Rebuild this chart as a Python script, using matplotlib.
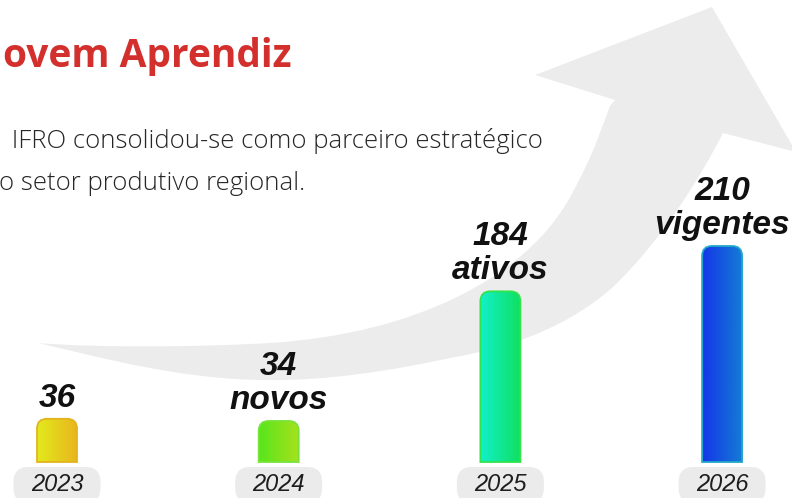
import numpy as np
import matplotlib
matplotlib.use("Agg")
import matplotlib.pyplot as plt
from matplotlib.path import Path
from matplotlib.patches import PathPatch, FancyBboxPatch
from matplotlib.colors import to_rgb

# ── data ────────────────────────────────────────────
years = ["2023", "2024", "2025", "2026"]
value_num = ["36", "34", "184", "210"]
value_word = ["", "novos", "ativos", "vigentes"]
bar_level = [20, 19, 79, 100]          # bar height as drawn (% of tallest)

title = "ovem Aprendiz"
subtitle = [" IFRO consolidou-se como parceiro estratégico",
            "o setor produtivo regional."]

# ── style ───────────────────────────────────────────
W, H = 792, 498
bar_left = ["#e2ea1c", "#58e51c", "#12f0cc", "#1436e8"]
bar_right = ["#e8b61e", "#a6e21c", "#10e062", "#147ad6"]
bar_edge = ["#e2b41c", "#78e43a", "#30e44a", "#22a8cc"]
ARROW = "#ececec"
RED = "#d22f2d"

fig = plt.figure(figsize=(W / 100, H / 100), dpi=100)
fig.patch.set_facecolor("white")

# background axes in pixel units (y down)
bg = fig.add_axes([0, 0, 1, 1])
bg.set_axis_off()

# big curved arrow
M, L, C = Path.MOVETO, Path.LINETO, Path.CURVE4
arrow = [
    ((38, 343), M),
    ((100, 348), C), ((200, 347), C), ((270, 343), C),
    ((345, 338), C), ((405, 322), C), ((455, 298), C),
    ((505, 274), C), ((552, 238), C), ((578, 182), C),
    ((596, 148), C), ((603, 124), C), ((610, 106), C),
    ((615, 100), L), ((535, 75), L), ((712, 7), L),
    ((796, 152), L), ((723, 133), L),
    ((700, 178), C), ((662, 240), C), ((613, 287), C),
    ((570, 325), C), ((515, 347), C), ((450, 358), C),
    ((390, 371), C), ((325, 381), C), ((267, 380), C),
    ((180, 380), C), ((95, 356), C), ((38, 343), C),
]
verts, codes = zip(*arrow)
bg.add_patch(PathPatch(Path(verts, codes), fc=ARROW, ec="none", zorder=1))

# bar axes: category x, height in % ; bottom at y=462 px, 100 % at y=246 px
ax = fig.add_axes([0, (H - 462) / H, 1, (462 - 246) / H])
ax.set_axis_off()
step = 221.7
ax.set_xlim(-57 / step, (W - 57) / step)
ax.set_ylim(0, 100)
xs = np.arange(len(years))
bars = ax.bar(xs, bar_level, width=40 / step, color="none", edgecolor="none")


def to_px(x, y):
    return bg.transData.inverted().transform(ax.transData.transform((x, y)))


bg.set_xlim(0, W)
bg.set_ylim(H, 0)

r = 10
grad = np.linspace(0, 1, 64)[None, :, None]
for i, rect in enumerate(bars):
    x0, yb = to_px(rect.get_x(), 0)
    x1, yt = to_px(rect.get_x() + rect.get_width(), rect.get_height())
    v = [(x0, yb), (x0, yt + r), (x0, yt), (x0 + r, yt), (x1 - r, yt),
         (x1, yt), (x1, yt + r), (x1, yb), (x0, yb)]
    c = [Path.MOVETO, Path.LINETO, Path.CURVE3, Path.CURVE3, Path.LINETO,
         Path.CURVE3, Path.CURVE3, Path.LINETO, Path.CLOSEPOLY]
    patch = PathPatch(Path(v, c), fc="none", ec=bar_edge[i], lw=1.3, zorder=4)
    bg.add_patch(patch)
    img = np.array(to_rgb(bar_left[i])) * (1 - grad) + np.array(to_rgb(bar_right[i])) * grad
    im = bg.imshow(img, extent=(x0, x1, yb, yt), aspect="auto", zorder=3,
                   interpolation="bilinear")
    im.set_clip_path(patch)

    # year pill
    xc = (x0 + x1) / 2
    bg.add_patch(FancyBboxPatch((xc - 43.5, 467), 87, 36,
                                boxstyle="round,pad=0,rounding_size=15",
                                fc="#ebebeb", ec="none", zorder=2))
    bg.text(xc, 484, years[i], ha="center", va="center", fontsize=17,
            style="italic", color="#1e1e1e", family="Liberation Sans", zorder=5)

    # value labels above bar
    lab = dict(ha="center", va="baseline", fontsize=24, fontweight="bold",
               style="italic", color="#111111", family="Liberation Sans",
               textcoords="offset points", zorder=5)
    if value_word[i]:
        ax.annotate(value_word[i], (xs[i], bar_level[i]), xytext=(0, 12 * 0.72), **lab)
        ax.annotate(value_num[i], (xs[i], bar_level[i]), xytext=(0, 46 * 0.72), **lab)
    else:
        ax.annotate(value_num[i], (xs[i], bar_level[i]), xytext=(0, 12 * 0.72), **lab)

bg.set_xlim(0, W)
bg.set_ylim(H, 0)

# header text
bg.text(3, 67, title, ha="left", va="baseline", fontsize=28, fontweight="bold",
        color=RED, family=["Open Sans", "DejaVu Sans"], zorder=5)
sub = dict(ha="left", va="baseline", fontsize=18.5, fontweight="light",
           color="#262626", family=["Open Sans", "DejaVu Sans"], zorder=5)
bg.text(5, 148, subtitle[0], **sub)
bg.text(-1, 190, subtitle[1], **sub)

fig.savefig("out.png", dpi=100)
